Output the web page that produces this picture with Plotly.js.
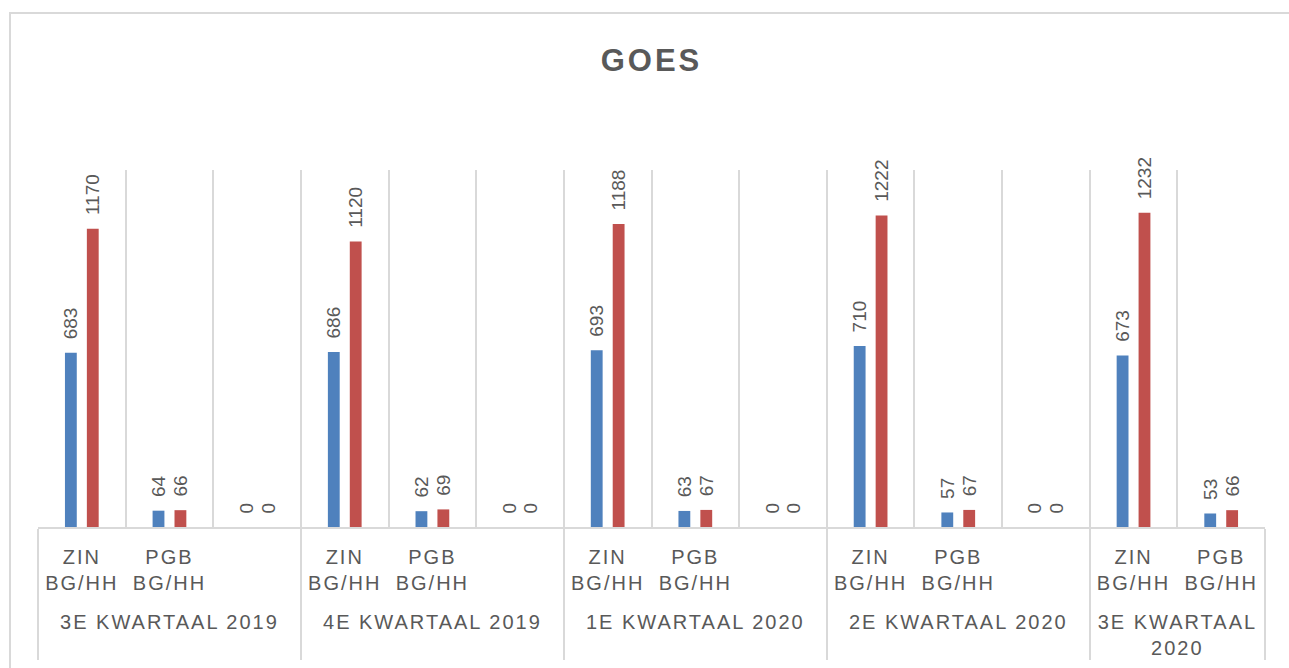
<!DOCTYPE html>
<html>
<head>
<meta charset="utf-8">
<script src="https://cdn.plot.ly/plotly-3.0.1.min.js"></script>
<style>
  html, body { margin: 0; padding: 0; background: #ffffff; }
  #frame { position: absolute; left: 9px; top: 12px; width: 1400px; height: 800px;
           border: 2px solid #d9d9d9; box-sizing: border-box; }
  #chart { position: absolute; left: 0; top: 0; width: 1289px; height: 668px; }
  #chart .xaxislayer-above text { letter-spacing: 2px; }
  #chart .gtitle { letter-spacing: 3px; }
</style>
</head>
<body>
<div id="frame"></div>
<div id="chart"></div>
<script>
// Outer categories (quarters) and inner categories
const quarters = ["<br>3E KWARTAAL 2019", "<br>4E KWARTAAL 2019", "<br>1E KWARTAAL 2020", "<br>2E KWARTAAL 2020", "<br>3E KWARTAAL<br>2020"];
const subcats = ["ZIN<br>BG/HH", "PGB<br>BG/HH", " "];
const subcatsLast = ["ZIN<br>BG/HH", "PGB<br>BG/HH"];

// Series values per quarter, in subcategory order
const blueValues = [
  [683, 64, 0],
  [686, 62, 0],
  [693, 63, 0],
  [710, 57, 0],
  [673, 53]
];
const redValues = [
  [1170, 66, 0],
  [1120, 69, 0],
  [1188, 67, 0],
  [1222, 67, 0],
  [1232, 66]
];
const seriesNames = ["Reeks 1", "Reeks 2"];
const seriesColors = ["#4F81BD", "#C0504D"];

// Build multicategory x arrays
const outer = [], inner = [], blueY = [], redY = [];
quarters.forEach((q, i) => {
  const subs = (i === quarters.length - 1) ? subcatsLast : subcats;
  subs.forEach((s, j) => {
    outer.push(q);
    inner.push(s);
    blueY.push(blueValues[i][j]);
    redY.push(redValues[i][j]);
  });
});

function makeTrace(y, name, color) {
  return {
    type: "bar",
    x: [outer, inner],
    y: y,
    name: name,
    marker: { color: color },
    text: y.map(v => "\u00a0\u00a0" + v),
    textposition: "outside",
    textangle: -90,
    constraintext: "none",
    cliponaxis: false,
    textfont: { family: "Liberation Sans, Arial, sans-serif", size: 19, color: "#595959" },
    hoverinfo: "y+name"
  };
}

const data = [
  makeTrace(blueY, seriesNames[0], seriesColors[0]),
  makeTrace(redY, seriesNames[1], seriesColors[1])
];

const layout = {
  width: 1289,
  height: 668,
  margin: { l: 38, r: 24, t: 170, b: 141 },
  paper_bgcolor: "rgba(0,0,0,0)",
  plot_bgcolor: "rgba(0,0,0,0)",
  showlegend: false,
  barmode: "group",
  bargap: 0.5,
  bargroupgap: 0.46,
  title: {
    text: "<b>GOES</b>",
    x: 0.5, xref: "paper", xanchor: "center",
    y: 1 - 60 / 668, yref: "container", yanchor: "middle",
    font: { family: "Liberation Sans, Arial, sans-serif", size: 31, color: "#595959" }
  },
  xaxis: {
    type: "multicategory",
    tickson: "boundaries",
    showgrid: true,
    gridcolor: "#d9d9d9",
    gridwidth: 2,
    showline: true,
    linecolor: "#d9d9d9",
    linewidth: 2,
    showdividers: true,
    dividercolor: "#d9d9d9",
    dividerwidth: 2,
    ticks: "",
    ticklabelstandoff: 11,
    tickfont: { family: "Liberation Sans, Arial, sans-serif", size: 20, color: "#595959" },
    zeroline: false
  },
  yaxis: {
    visible: false,
    range: [0, 1400],
    showgrid: false,
    zeroline: false
  }
};

Plotly.newPlot("chart", data, layout, { displayModeBar: false, staticPlot: true });
</script>
</body>
</html>
